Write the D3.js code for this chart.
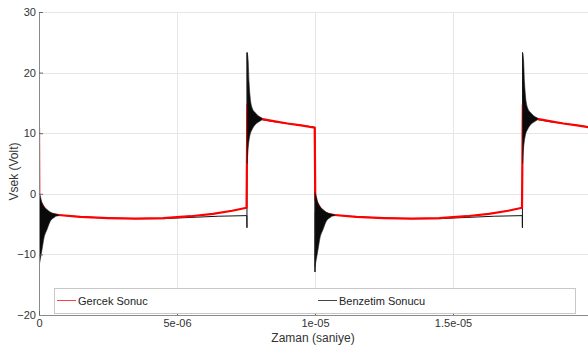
<!DOCTYPE html>
<html>
<head>
<meta charset="utf-8">
<script src="https://cdn.jsdelivr.net/npm/d3@7"></script>
<style>
  body { margin: 0; background: #fff; }
  svg { display: block; font-family: "Liberation Sans", Arial, sans-serif; }
</style>
</head>
<body>
<div id="chart"></div>
<script>
// eksen degerleri
const xTicks = [0, 5e-6, 1e-5, 1.5e-5];
const xTickLabels = ["0", "5e-06", "1e-05", "1.5e-05"];
const yTicks = [-20, -10, 0, 10, 20, 30];

// olculen sinyal [zaman, volt]
const gercekSonuc = [
  [0, 10.9], [0.01e-6, -1.0], [0.3e-6, -3.2], [0.7e-6, -3.5], [1.5e-6, -3.8],
  [2.5e-6, -4.0], [3.5e-6, -4.1], [4.5e-6, -4.0], [5.5e-6, -3.7], [6.3e-6, -3.3],
  [7.0e-6, -2.8], [7.52e-6, -2.3], [7.55e-6, 14.7], [7.7e-6, 13.0], [8.0e-6, 12.4],
  [8.5e-6, 12.0], [9.0e-6, 11.6], [9.5e-6, 11.3], [9.99e-6, 10.9],
  [1.001e-5, -1.0], [1.03e-5, -3.2], [1.07e-5, -3.5], [1.15e-5, -3.8],
  [1.25e-5, -4.0], [1.35e-5, -4.1], [1.45e-5, -4.0], [1.55e-5, -3.7], [1.63e-5, -3.3],
  [1.70e-5, -2.8], [1.750e-5, -2.3], [1.753e-5, 14.7], [1.77e-5, 13.0], [1.80e-5, 12.4],
  [1.85e-5, 12.0], [1.90e-5, 11.6], [1.95e-5, 11.3], [2.0e-5, 10.9]
];

// benzetim sonucu [zaman, volt]
const benzetimSonucu = [
  [0, -13.5], [0.01e-6, -3.0], [0.7e-6, -3.5], [1.5e-6, -3.8], [2.5e-6, -4.0],
  [3.5e-6, -4.1], [4.5e-6, -4.1], [5.5e-6, -3.9], [6.5e-6, -3.7], [7.53e-6, -3.6],
  [7.535e-6, -5.6], [7.54e-6, 23.3], [7.56e-6, 12.6], [8.0e-6, 12.3], [8.5e-6, 11.9],
  [9.0e-6, 11.6], [9.5e-6, 11.3], [9.995e-6, 11.0], [1.0e-5, -12.9],
  [1.001e-5, -3.0], [1.07e-5, -3.5], [1.15e-5, -3.8], [1.25e-5, -4.0],
  [1.35e-5, -4.1], [1.45e-5, -4.1], [1.55e-5, -3.9], [1.65e-5, -3.7], [1.751e-5, -3.6],
  [1.7515e-5, -5.6], [1.752e-5, 23.3], [1.754e-5, 12.6], [1.80e-5, 12.3], [1.85e-5, 11.9],
  [1.90e-5, 11.6], [1.95e-5, 11.3], [2.0e-5, 11.0]
];

// salinim zarfi (kenardan itibaren sure, ust, alt)
const dusenZarf = [
  [0, 0.2, -12.0], [0.04e-6, -0.3, -11.0], [0.11e-6, -1.5, -9.2], [0.18e-6, -2.1, -7.3],
  [0.29e-6, -2.6, -5.9], [0.40e-6, -3.0, -4.6], [0.55e-6, -3.3, -3.9], [0.72e-6, -3.45, -3.6]
];
const yukselenZarf = [
  [0, 23.3, 5.0], [0.036e-6, 22.1, 7.5], [0.072e-6, 18.3, 8.9], [0.109e-6, 16.0, 9.8],
  [0.18e-6, 14.2, 10.6], [0.29e-6, 13.4, 11.4], [0.40e-6, 12.9, 11.8], [0.54e-6, 12.5, 12.2]
];
const dusenKenar = [0, 1e-5];
const yukselenKenar = [7.54e-6, 1.752e-5];

const width = 588, height = 345;
const mLeft = 39, mRight = 588, mTop = 12, mBottom = 315;

const svg = d3.select("#chart").append("svg")
  .attr("width", width).attr("height", height);

const x = d3.scaleLinear().domain([0, 2e-5]).range([mLeft, 591]);
const y = d3.scaleLinear().domain([-20, 30]).range([mBottom, mTop]);

svg.append("defs").append("clipPath").attr("id", "clip")
  .append("rect").attr("x", mLeft).attr("y", mTop - 2)
  .attr("width", mRight - mLeft).attr("height", mBottom - mTop + 2);

// izgara
const grid = svg.append("g").attr("stroke", "#e6e6e6").attr("stroke-width", 1);
grid.selectAll(".gx").data(xTicks.slice(1)).enter().append("line")
  .attr("x1", d => Math.round(x(d)) + 0.5).attr("x2", d => Math.round(x(d)) + 0.5)
  .attr("y1", mTop).attr("y2", mBottom);
grid.selectAll(".gy").data(yTicks.slice(1)).enter().append("line")
  .attr("x1", mLeft).attr("x2", mRight)
  .attr("y1", d => Math.round(y(d)) + 0.5).attr("y2", d => Math.round(y(d)) + 0.5);

const plot = svg.append("g").attr("clip-path", "url(#clip)");

const line = d3.line().x(d => x(d[0])).y(d => y(d[1]));

plot.append("path").datum(benzetimSonucu)
  .attr("d", line).attr("fill", "none")
  .attr("stroke", "#111").attr("stroke-width", 1);

plot.append("path").datum(gercekSonuc)
  .attr("d", line).attr("fill", "none")
  .attr("stroke", "#ff0000").attr("stroke-width", 2.2)
  .attr("stroke-linejoin", "round");

function zarfCiz(zarf, kenarlar) {
  kenarlar.forEach(t0 => {
    const area = d3.area()
      .x(d => x(t0 + d[0]))
      .y0(d => y(d[2]))
      .y1(d => y(d[1]))
      .curve(d3.curveMonotoneX);
    plot.append("path").datum(zarf)
      .attr("d", area).attr("fill", "#0a0a0a")
      .attr("stroke", "#222").attr("stroke-width", 0.6);
  });
}
zarfCiz(dusenZarf, dusenKenar);
zarfCiz(yukselenZarf, yukselenKenar);

// eksenler
const yAxis = d3.axisLeft(y).tickValues(yTicks)
  .tickSizeInner(-4).tickSizeOuter(0).tickPadding(3).tickFormat(d3.format("d"));
const gy = svg.append("g").attr("transform", `translate(${mLeft},0)`).call(yAxis);

const xAxis = d3.axisBottom(x).tickValues(xTicks)
  .tickSizeInner(-4).tickSizeOuter(0).tickPadding(4)
  .tickFormat((d, i) => xTickLabels[i]);
const gx = svg.append("g").attr("transform", `translate(0,${mBottom})`).call(xAxis);
gx.select(".domain").attr("d", `M${mLeft},0.5H${mRight}`);

[gx, gy].forEach(g => {
  g.select(".domain").attr("stroke", "#8a8a8a");
  g.selectAll(".tick line").attr("stroke", "#666");
  g.selectAll(".tick text").attr("fill", "#333").style("font-size", "11px");
});

// eksen basliklari
svg.append("text")
  .attr("x", 313).attr("y", 342)
  .attr("text-anchor", "middle").attr("fill", "#333")
  .style("font-size", "12px").text("Zaman (saniye)");

svg.append("text")
  .attr("transform", `translate(18,${(mTop + mBottom) / 2 + 8}) rotate(-90)`)
  .attr("text-anchor", "middle").attr("fill", "#333")
  .style("font-size", "12px").text("Vsek (Volt)");

// lejant
const lg = svg.append("g");
lg.append("rect").attr("x", 54.5).attr("y", 288.5).attr("width", 521).attr("height", 25)
  .attr("fill", "#fff").attr("stroke", "#c8c8c8");
const items = [
  { name: "Gercek Sonuc", color: "#ff4040", x0: 57 },
  { name: "Benzetim Sonucu", color: "#444", x0: 318 }
];
items.forEach(it => {
  lg.append("line").attr("x1", it.x0).attr("x2", it.x0 + 19)
    .attr("y1", 300.5).attr("y2", 300.5)
    .attr("stroke", it.color).attr("stroke-width", 1);
  lg.append("text").attr("x", it.x0 + 21).attr("y", 304.5)
    .attr("fill", "#222").style("font-size", "11px").text(it.name);
});
</script>
</body>
</html>
